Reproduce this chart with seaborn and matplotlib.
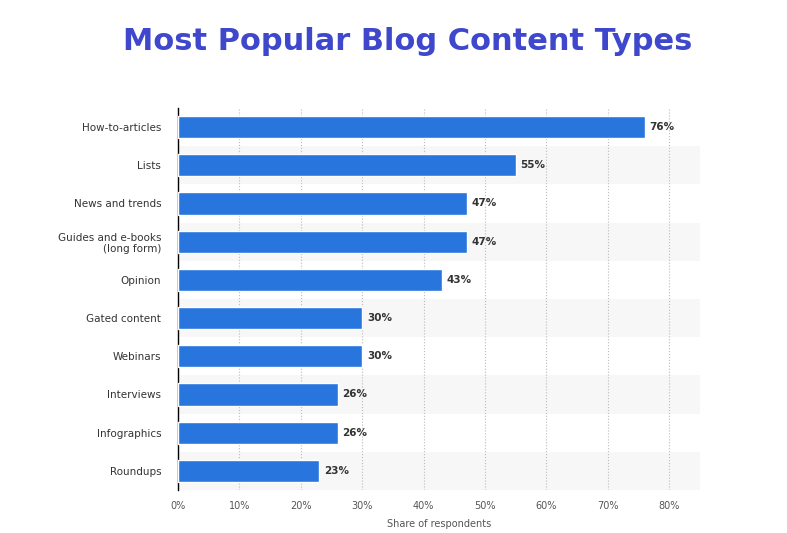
import pandas as pd
import seaborn as sns
import matplotlib.pyplot as plt

categories = ["How-to-articles", "Lists", "News and trends", "Guides and e-books\n(long form)",
              "Opinion", "Gated content", "Webinars", "Interviews", "Infographics", "Roundups"]
values = [76, 55, 47, 47, 43, 30, 30, 26, 26, 23]
xticks = [0, 10, 20, 30, 40, 50, 60, 70, 80]

df = pd.DataFrame({"cat": categories, "val": values})

sns.set_style("white")
fig = plt.figure(figsize=(7.87, 5.33), dpi=100)
ax = fig.add_axes([178 / 787, 1 - 490 / 533, 522 / 787, 382 / 533])

# alternating row bands
for i in range(len(categories)):
    if i % 2 == 1:
        ax.axhspan(i - 0.5, i + 0.5, color="#f7f7f7", zorder=0, lw=0)

sns.barplot(data=df, x="val", y="cat", color="#2876dd", width=0.58, ax=ax, zorder=3, saturation=1)

for i, v in enumerate(values):
    ax.text(v + 0.8, i, f"{v}%", va="center", ha="left", fontsize=7.5,
            fontweight="bold", color="#333333", zorder=4)

ax.set_xlim(0, 85)
ax.set_ylim(len(categories) - 0.5, -0.5)
ax.set_xticks(xticks)
ax.set_xticklabels([f"{t}%" for t in xticks], fontsize=7, color="#555555")
ax.tick_params(axis="y", labelsize=7.5, colors="#333333", length=0, pad=12)
ax.tick_params(axis="x", length=0, pad=8)
ax.xaxis.grid(True, linestyle=":", color="#bbbbbb", lw=0.8, zorder=1)
ax.set_axisbelow(True)
for s in ["top", "right", "bottom"]:
    ax.spines[s].set_visible(False)
ax.spines["left"].set_color("black")
ax.spines["left"].set_linewidth(1)
ax.set_ylabel("")
ax.set_xlabel("Share of respondents", fontsize=7, color="#555555", labelpad=6)

fig.text(408 / 787, 1 - 42 / 533, "Most Popular Blog Content Types", ha="center", va="center",
         fontsize=22, fontweight="bold", color="#3f48cc")

fig.savefig("out.png", dpi=100)
